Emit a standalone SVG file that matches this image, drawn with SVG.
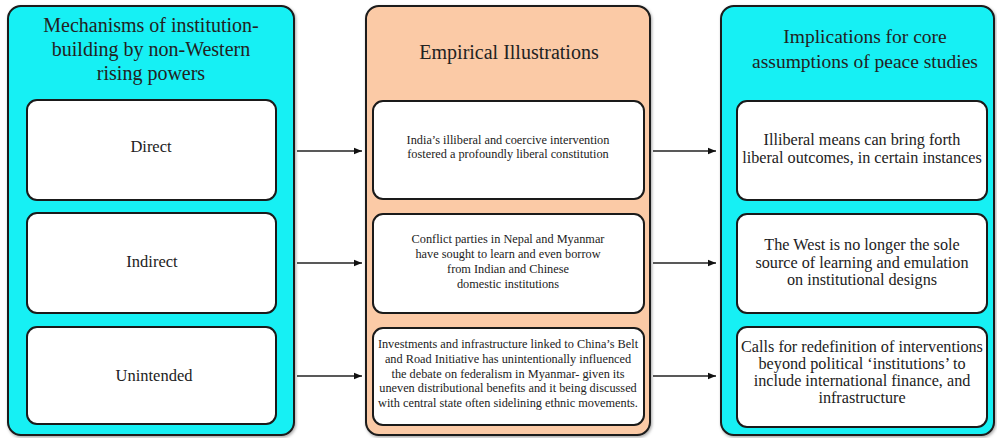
<svg xmlns="http://www.w3.org/2000/svg" width="997" height="438" viewBox="0 0 997 438">
<defs>
<style>
.panel{stroke:#1a1a1a;stroke-width:2}
.cyan{fill:#18f0f4}
.peach{fill:#fbcaa6}
.box{fill:#ffffff;stroke:#1a1a1a;stroke-width:2}
text{font-family:"Liberation Serif","Times New Roman",serif;fill:#222;text-anchor:middle}
.h{font-size:20px}
.h2{font-size:19.5px}
.l{font-size:16.5px}
.m{font-size:12.3px}
.r{font-size:16.2px}
.conn{stroke:#222;stroke-width:1.3;fill:none;marker-end:url(#arr)}
</style>
<marker id="arr" viewBox="0 0 10 10" refX="10" refY="5" markerWidth="8" markerHeight="8" markerUnits="userSpaceOnUse" orient="auto">
<path d="M0,1 L10,5 L0,9 z" fill="#111"/>
</marker>
<filter id="sh" x="-5%" y="-5%" width="110%" height="110%">
<feDropShadow dx="1" dy="1.5" stdDeviation="1.5" flood-color="#000" flood-opacity="0.35"/>
</filter>
</defs>
<rect width="997" height="438" fill="#ffffff"/>

<g id="panel-left">
<rect class="panel cyan" x="8" y="6" width="286" height="429" rx="13" filter="url(#sh)"/>
<text class="h" x="151" y="32">Mechanisms of institution-</text>
<text class="h" x="151" y="56">building by non-Western</text>
<text class="h" x="151" y="80">rising powers</text>
</g>
<g id="node-direct">
<rect class="box" x="27" y="100" width="249" height="100" rx="10"/>
<text class="l" x="151" y="152">Direct</text>
</g>
<g id="node-indirect">
<rect class="box" x="27" y="213" width="249" height="100" rx="10"/>
<text class="l" x="152" y="267">Indirect</text>
</g>
<g id="node-unintended">
<rect class="box" x="27" y="327" width="249" height="97" rx="10"/>
<text class="l" x="154" y="381">Unintended</text>
</g>

<g id="panel-middle">
<rect class="panel peach" x="366" y="6" width="284" height="429" rx="13" filter="url(#sh)"/>
<text class="h" x="509" y="59">Empirical Illustrations</text>
</g>
<g id="node-india">
<rect class="box" x="373" y="101" width="271" height="98" rx="10"/>
<text class="m" x="508" y="144">India’s illiberal and coercive intervention</text>
<text class="m" x="508" y="158">fostered a profoundly liberal constitution</text>
</g>
<g id="node-conflict">
<rect class="box" x="373" y="214" width="271" height="99" rx="10"/>
<text class="m" x="508" y="243">Conflict parties in Nepal and Myanmar</text>
<text class="m" x="508" y="258">have sought to learn and even borrow</text>
<text class="m" x="508" y="273">from Indian and Chinese</text>
<text class="m" x="508" y="288">domestic institutions</text>
</g>
<g id="node-bri">
<rect class="box" x="373" y="328" width="271" height="97" rx="10"/>
<text class="m" x="508" y="348">Investments and infrastructure linked to China’s Belt</text>
<text class="m" x="508" y="362.5">and Road Initiative has unintentionally influenced</text>
<text class="m" x="508" y="377.5">the debate on federalism in Myanmar- given its</text>
<text class="m" x="508" y="392">uneven distributional benefits and it being discussed</text>
<text class="m" x="508" y="407">with central state often sidelining ethnic movements.</text>
</g>

<g id="panel-right">
<rect class="panel cyan" x="721" y="6" width="273" height="429" rx="13" filter="url(#sh)"/>
<text class="h2" x="865" y="43">Implications for core</text>
<text class="h2" x="865" y="68">assumptions of peace studies</text>
</g>
<g id="node-illiberal">
<rect class="box" x="737" y="101" width="250" height="99" rx="10"/>
<text class="r" x="862" y="145">Illiberal means can bring forth</text>
<text class="r" x="862" y="163">liberal outcomes, in certain instances</text>
</g>
<g id="node-west">
<rect class="box" x="737" y="214" width="250" height="99" rx="10"/>
<text class="r" x="862" y="250">The West is no longer the sole</text>
<text class="r" x="862" y="267.5">source of learning and emulation</text>
<text class="r" x="862" y="285">on institutional designs</text>
</g>
<g id="node-calls">
<rect class="box" x="737" y="327" width="250" height="100" rx="10"/>
<text class="r" x="862" y="352">Calls for redefinition of interventions</text>
<text class="r" x="862" y="369">beyond political ‘institutions’ to</text>
<text class="r" x="862" y="386">include international finance, and</text>
<text class="r" x="862" y="403">infrastructure</text>
</g>

<g id="connectors">
<line class="conn" x1="297" y1="151" x2="362" y2="151"/>
<line class="conn" x1="297" y1="263" x2="362" y2="263"/>
<line class="conn" x1="297" y1="376" x2="362" y2="376"/>
<line class="conn" x1="653" y1="151" x2="716" y2="151"/>
<line class="conn" x1="653" y1="263" x2="716" y2="263"/>
<line class="conn" x1="653" y1="376" x2="716" y2="376"/>
</g>
</svg>
